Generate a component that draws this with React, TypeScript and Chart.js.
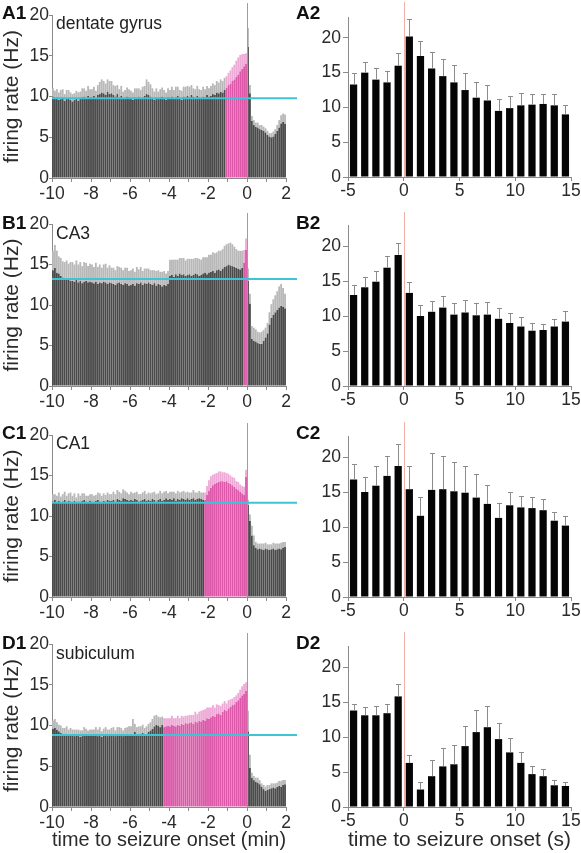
import React, { useEffect, useRef } from "react";
import { Chart, registerables } from "chart.js";
Chart.register(...registerables);

// ---------------- data ----------------
// minute-scale histograms: 6-s bins from -10 to 2 min (120 bins)
const MIN_START = -10;
const MIN_BIN = 0.1;

const A1_MEAN = [
  10.0, 9.8, 9.9, 9.6, 9.7, 9.9, 9.5, 9.8, 9.7, 9.6,
  9.4, 9.6, 9.8, 9.5, 9.7, 9.9, 10.0, 9.8, 10.1, 9.9,
  9.9, 10.1, 9.8, 10.2, 10.3, 10.5, 10.4, 10.2, 10.6, 10.3,
  10.4, 10.2, 10.0, 10.3, 9.9, 10.1, 9.7, 9.8, 10.0, 9.9,
  9.7, 9.6, 9.9, 9.8, 10.0, 9.7, 9.9, 10.1, 10.3, 10.2,
  10.0, 9.8, 9.6, 9.9, 9.7, 9.9, 10.0, 9.8, 9.6, 9.9,
  9.8, 10.0, 9.7, 9.9, 10.1, 9.8, 9.6, 10.0, 9.9, 10.1,
  9.9, 10.2, 10.0, 9.8, 10.1, 9.9, 9.7, 10.0, 9.9, 10.2,
  10.0, 10.1, 10.3, 10.2, 10.5, 10.4, 10.6, 10.5, 10.8, 11.1,
  11.4, 11.6, 11.9, 12.1, 12.4, 12.7, 13.1, 13.4, 13.7, 14.0,
  16.1, 10.4, 7.0, 6.5, 6.3, 6.2, 6.0, 5.9, 5.8, 5.6,
  5.3, 5.1, 5.0, 5.1, 5.4, 5.8, 6.2, 6.7, 6.9, 6.7,
];
const A1_SEM = [
  1.0, 0.9, 1.0, 0.9, 1.1, 1.0, 0.8, 1.0, 1.1, 0.9,
  0.9, 0.8, 0.9, 1.0, 0.9, 1.1, 1.0, 0.9, 1.2, 1.0,
  1.0, 1.1, 0.9, 1.2, 1.5, 1.6, 1.5, 1.4, 1.5, 1.6,
  1.5, 1.2, 1.3, 1.1, 1.0, 1.2, 0.9, 1.0, 1.1, 1.0,
  1.0, 0.9, 1.1, 1.2, 1.0, 1.1, 1.3, 1.2, 1.8, 1.6,
  1.5, 1.2, 1.0, 1.1, 0.9, 1.0, 1.1, 1.0, 0.9, 1.1,
  1.0, 1.2, 1.1, 1.3, 1.1, 1.0, 1.1, 1.2, 1.3, 1.2,
  1.3, 1.2, 1.0, 1.1, 1.2, 1.0, 1.1, 1.2, 1.0, 1.1,
  1.0, 1.2, 1.3, 1.2, 1.4, 1.3, 1.5, 1.4, 1.5, 1.4,
  1.5, 1.6, 1.7, 1.8, 2.0, 2.1, 2.0, 1.8, 1.5, 1.3,
  2.3, 1.0, 0.6, 0.6, 0.5, 0.6, 0.5, 0.6, 0.5, 0.5,
  0.5, 0.4, 0.5, 0.6, 0.6, 0.7, 0.9, 1.0, 1.0, 1.1,
];

const B1_MEAN = [
  14.3, 14.6, 14.0, 13.9, 13.6, 13.4, 13.2, 13.3, 13.1, 13.0,
  13.0, 12.9, 13.1, 12.8, 13.0, 12.7, 12.9, 13.0, 12.8, 12.9,
  12.8, 12.7, 12.9, 12.6, 12.8, 12.7, 12.9, 12.8, 12.6, 12.8,
  12.7, 12.6, 12.5, 12.7, 12.8, 12.6, 12.5, 12.7, 12.6, 12.4,
  12.5, 12.6, 12.4, 12.7, 12.6, 12.8, 12.5, 12.7, 12.6, 12.8,
  12.6, 12.5, 12.7, 12.4, 12.6, 12.5, 12.3, 12.5, 12.4, 12.6,
  13.6, 13.7, 13.5, 13.8, 13.6, 13.9, 13.7, 13.8, 13.6, 13.7,
  13.8, 13.6, 13.7, 13.9, 13.8, 13.6, 13.7, 13.9, 14.0, 13.8,
  14.0, 14.1, 14.2, 14.0, 14.3, 14.4, 14.2, 14.5, 14.7, 14.8,
  15.0, 14.9, 14.8, 14.7, 14.6, 14.5, 14.4, 14.6, 15.2, 16.8,
  13.0, 10.2, 5.8, 5.6, 5.5, 5.3, 5.2, 5.2, 5.6, 6.0,
  6.5, 7.6, 8.4, 8.8, 9.1, 9.4, 9.7, 9.9, 9.8, 9.6,
];
const B1_SEM = [
  2.4, 2.8, 2.7, 2.1, 2.2, 2.0, 2.1, 2.2, 2.0, 2.3,
  2.3, 2.1, 2.4, 2.2, 2.3, 2.1, 2.4, 2.2, 2.0, 2.2,
  2.2, 2.0, 2.3, 2.1, 2.2, 1.9, 2.1, 2.3, 2.0, 2.1,
  1.9, 2.0, 1.8, 2.1, 1.9, 2.0, 1.8, 1.9, 2.0, 1.8,
  1.8, 1.9, 1.7, 2.0, 1.8, 1.9, 1.7, 1.8, 1.9, 1.7,
  1.7, 1.8, 1.6, 1.8, 1.7, 1.6, 1.8, 1.7, 1.5, 1.6,
  2.0, 1.9, 2.1, 1.8, 2.0, 1.9, 2.1, 2.0, 1.9, 2.0,
  1.9, 2.1, 2.0, 1.9, 2.0, 2.1, 1.9, 2.0, 1.9, 2.1,
  2.2, 2.1, 2.3, 2.4, 2.2, 2.3, 2.5, 2.4, 2.6, 2.7,
  2.6, 2.8, 2.7, 2.5, 2.3, 2.2, 2.3, 2.1, 1.6, 1.4,
  1.5, 1.2, 1.6, 1.6, 1.5, 1.4, 1.4, 1.5, 1.3, 1.2,
  1.3, 1.5, 1.7, 1.9, 2.1, 2.3, 2.6, 2.7, 2.3, 1.8,
];

const C1_MEAN = [
  11.8, 12.0, 11.7, 11.9, 11.6, 11.8, 12.0, 11.7, 11.9, 11.8,
  11.7, 11.9, 11.6, 11.8, 11.7, 11.9, 12.0, 11.8, 11.6, 11.9,
  11.8, 11.7, 11.9, 12.0, 11.8, 11.7, 11.9, 11.8, 12.0, 11.9,
  11.9, 12.0, 11.8, 12.1, 12.0, 11.9, 12.2, 12.1, 12.0, 11.9,
  12.0, 11.9, 12.1, 12.0, 11.8, 11.9, 12.0, 12.1, 11.9, 12.0,
  11.9, 12.1, 12.0, 11.8, 12.0, 12.1, 11.9, 12.0, 12.2, 12.0,
  12.1, 12.0, 12.2, 11.9, 12.1, 12.0, 12.2, 12.1, 12.0, 12.2,
  12.0, 12.1, 12.2, 12.0, 12.1, 12.2, 12.1, 12.0, 12.0, 12.6,
  13.1, 13.5, 13.8, 14.0, 14.1, 14.2, 14.3, 14.3, 14.2, 14.3,
  14.1, 14.0, 13.8, 13.6, 13.4, 13.2, 13.0, 12.8, 12.6, 14.8,
  11.4, 9.4, 7.6, 6.4, 6.1, 5.9, 6.0, 5.9, 5.8, 6.0,
  5.9, 5.8, 5.9, 6.0, 5.8, 5.9, 6.0, 5.9, 6.1, 6.2,
];
const C1_SEM = [
  0.9, 0.7, 0.8, 1.0, 0.8, 0.9, 1.0, 0.8, 0.9, 1.1,
  0.8, 0.9, 0.7, 1.0, 0.8, 0.9, 0.8, 0.7, 0.9, 0.8,
  0.9, 0.8, 0.7, 0.9, 1.0, 0.8, 0.9, 0.8, 0.9, 0.8,
  0.8, 1.0, 0.9, 1.1, 1.0, 0.9, 1.1, 1.0, 0.9, 0.8,
  1.0, 0.9, 0.8, 1.0, 0.9, 0.8, 0.9, 1.0, 0.8, 0.9,
  0.9, 0.8, 1.0, 0.9, 0.8, 1.0, 0.9, 1.0, 0.9, 0.8,
  0.9, 1.0, 0.8, 0.9, 1.0, 0.9, 0.8, 1.0, 0.9, 0.8,
  0.9, 0.8, 1.0, 0.9, 0.8, 0.9, 0.8, 0.9, 0.9, 1.1,
  1.3, 1.4, 1.3, 1.2, 1.2, 1.3, 1.2, 1.1, 1.2, 1.0,
  1.1, 1.0, 1.0, 1.1, 0.9, 1.0, 0.9, 0.9, 1.0, 0.9,
  0.6, 0.8, 1.2, 1.2, 0.7, 0.7, 0.6, 0.7, 0.8, 0.7,
  0.6, 0.7, 0.6, 0.7, 0.8, 0.7, 0.6, 0.8, 0.7, 0.6,
];

const D1_MEAN = [
  9.6, 9.7, 9.5, 9.3, 9.1, 9.0, 8.9, 9.0, 8.8, 8.9,
  8.8, 8.7, 8.9, 8.8, 8.6, 8.7, 8.9, 8.8, 8.7, 8.9,
  8.7, 8.8, 8.9, 8.7, 8.8, 8.6, 8.8, 8.9, 8.7, 8.8,
  8.9, 8.8, 8.7, 8.9, 9.0, 8.8, 8.7, 8.9, 8.8, 9.0,
  8.9, 9.0, 9.2, 8.9, 8.8, 9.0, 9.1, 8.9, 9.0, 9.2,
  9.4, 9.6, 9.9, 10.1, 10.0, 9.8, 10.1, 9.8, 9.9, 10.0,
  9.9, 10.1, 10.0, 9.9, 10.1, 10.0, 10.2, 10.1, 10.3, 10.2,
  10.3, 10.4, 10.2, 10.5, 10.4, 10.6, 10.5, 10.7, 10.6, 10.9,
  10.8, 11.0, 11.2, 11.1, 11.4, 11.5, 11.3, 11.7, 11.9, 11.8,
  12.1, 12.3, 12.5, 12.6, 12.9, 13.1, 13.4, 13.7, 13.9, 14.3,
  9.3, 4.8, 3.6, 3.3, 3.1, 3.0, 2.8, 2.5, 2.2, 2.0,
  2.1, 2.2, 2.3, 2.4, 2.3, 2.5, 2.6, 2.5, 2.7, 2.8,
];
const D1_SEM = [
  1.0, 1.1, 0.9, 0.8, 0.9, 0.7, 0.8, 0.9, 0.7, 0.8,
  0.7, 0.8, 0.6, 0.7, 0.8, 0.7, 0.9, 0.8, 0.7, 0.6,
  0.8, 0.7, 0.9, 0.8, 1.0, 0.7, 0.8, 0.9, 0.8, 0.7,
  0.8, 1.0, 0.7, 0.9, 0.8, 0.9, 0.7, 0.8, 1.0, 0.9,
  1.0, 1.8, 1.0, 0.9, 1.1, 0.9, 1.0, 0.8, 0.9, 1.0,
  1.0, 1.2, 1.3, 1.2, 1.1, 1.2, 1.0, 1.1, 1.0, 0.9,
  1.0, 1.1, 0.9, 1.0, 1.1, 0.9, 1.0, 1.0, 0.9, 1.0,
  1.0, 0.9, 1.1, 1.2, 1.0, 1.1, 1.3, 1.2, 1.4, 1.3,
  1.4, 1.2, 1.3, 1.1, 1.2, 1.0, 1.1, 1.0, 1.1, 0.9,
  1.0, 0.9, 0.8, 0.9, 0.8, 0.9, 1.0, 1.1, 1.2, 1.0,
  2.5, 1.6, 0.6, 0.5, 0.5, 0.6, 0.5, 0.4, 0.5, 0.5,
  0.6, 0.5, 0.6, 0.5, 0.6, 0.5, 0.6, 0.7, 0.6, 0.5,
];

// second-scale histograms: 1-s bins from -5 to 15 s
const SEC_CENTERS = [-4.5, -3.5, -2.5, -1.5, -0.5, 0.5, 1.5, 2.5, 3.5, 4.5, 5.5, 6.5, 7.5, 8.5, 9.5, 10.5, 11.5, 12.5, 13.5, 14.5];

const A2_MEAN = [13.3, 15.0, 14.0, 13.6, 16.0, 20.2, 17.4, 15.6, 14.5, 13.6, 12.5, 11.4, 11.0, 9.5, 9.9, 10.3, 10.4, 10.5, 10.3, 9.0];
const A2_SEM = [1.6, 1.6, 1.7, 1.7, 1.8, 2.5, 2.2, 2.3, 2.5, 2.5, 2.5, 2.3, 2.2, 1.7, 1.8, 1.8, 1.6, 1.5, 1.6, 1.3];
const B2_MEAN = [13.0, 14.1, 14.9, 16.9, 18.7, 13.3, 10.0, 10.6, 11.2, 10.2, 10.5, 10.1, 10.2, 9.6, 9.0, 8.5, 7.9, 8.0, 8.5, 9.2];
const B2_SEM = [1.4, 1.5, 1.6, 1.7, 1.8, 1.6, 1.6, 1.5, 1.6, 1.6, 1.8, 1.8, 1.8, 1.6, 1.5, 1.3, 1.1, 0.9, 1.1, 1.5];
const C2_MEAN = [16.8, 15.0, 15.9, 17.3, 18.7, 15.4, 11.6, 15.3, 15.4, 15.1, 14.9, 14.2, 13.3, 11.3, 13.1, 12.8, 12.7, 12.4, 10.9, 10.2];
const C2_SEM = [2.2, 2.1, 2.8, 2.9, 3.2, 3.3, 2.7, 5.3, 4.8, 4.2, 3.8, 3.3, 2.7, 2.1, 1.9, 1.7, 1.6, 1.6, 1.3, 1.4];
const D2_MEAN = [13.8, 13.1, 13.1, 13.4, 15.8, 6.3, 2.5, 4.4, 5.8, 6.1, 8.7, 10.7, 11.4, 9.7, 7.8, 6.3, 4.7, 4.4, 3.1, 3.0];
const D2_SEM = [0.9, 1.2, 1.3, 1.3, 1.7, 1.2, 1.1, 2.3, 2.7, 2.8, 2.9, 3.1, 3.1, 2.3, 2.0, 1.5, 1.1, 1.1, 0.8, 0.6];

// baselines (cyan) and pre-ictal (pink) onset per region
const REGIONS = ["dentate gyrus", "CA3", "CA1", "subiculum"];
const LETTERS = ["A", "B", "C", "D"];
const BASELINES = [9.8, 13.2, 11.65, 8.83];
const PINK_STARTS = [-1.1, -0.2, -2.2, -4.3];
const LEFT_MEANS = [A1_MEAN, B1_MEAN, C1_MEAN, D1_MEAN];
const LEFT_SEMS = [A1_SEM, B1_SEM, C1_SEM, D1_SEM];
const RIGHT_MEANS = [A2_MEAN, B2_MEAN, C2_MEAN, D2_MEAN];
const RIGHT_SEMS = [A2_SEM, B2_SEM, C2_SEM, D2_SEM];

const Y_TITLE = "firing rate (Hz)";
const X_TITLE_LEFT = "time to seizure onset (min)";
const X_TITLE_RIGHT = "time to seizure onset (s)";

// ---------------- style / layout ----------------
const FONT = "'Liberation Sans', Arial, Helvetica, sans-serif";
const TXT = "#2b2b2b";
const AXIS = "#8a8a8a";
const DARK = "#4a4a4a";
const GRAY_LIGHT = "#b8b8b8";
const PINK = "#dc58a8";
const PINK_LIGHT = "#eeaad6";
const CYAN = "#3ec4d4";
const ONSET_L = "#f07c78";
const ONSET_R = "#f2b2a8";
const BAR_BLACK = "#050505";
const ERR_GRAY = "#8c8c8c";

const ROW_TOP = [0, 210, 420, 630];
const ROW_H = [210, 210, 210, 223];
const LEFT_TOP = [15, 14, 15, 14];
const LEFT_BOTTOM = [178, 176, 177, 177];
const RIGHT_TOP = [17, 15, 16, 16];
const RIGHT_BOTTOM = [177, 176, 177, 177];
const LEFT_W = 300;
const RIGHT_X = 290;
const RIGHT_W = 291;

function overlayPlugin(opts: any) {
  return {
    id: "overlay" + Math.random().toString(36).slice(2),
    afterDatasetsDraw(chart: any) {
      const { ctx, chartArea, scales } = chart;
      const x = scales.x;
      const y = scales.y;
      ctx.save();
      if (opts.errors) {
        ctx.strokeStyle = ERR_GRAY;
        ctx.lineWidth = 1;
        opts.centers.forEach((c: number, i: number) => {
          const px = Math.round(x.getPixelForValue(c)) + 0.5;
          const y0 = y.getPixelForValue(opts.mean[i]);
          const y1 = Math.round(y.getPixelForValue(opts.mean[i] + opts.sem[i])) + 0.5;
          ctx.beginPath();
          ctx.moveTo(px, y0);
          ctx.lineTo(px, y1);
          ctx.moveTo(px - 2.5, y1);
          ctx.lineTo(px + 2.5, y1);
          ctx.stroke();
        });
      }
      if (opts.baseline != null) {
        const py = y.getPixelForValue(opts.baseline);
        ctx.strokeStyle = CYAN;
        ctx.lineWidth = 2;
        ctx.beginPath();
        ctx.moveTo(chartArea.left, py);
        ctx.lineTo(chartArea.right + opts.extend, py);
        ctx.stroke();
      }
      const p0 = Math.round(x.getPixelForValue(0)) + 0.5;
      ctx.strokeStyle = opts.onsetColor;
      ctx.lineWidth = 1;
      ctx.beginPath();
      ctx.moveTo(p0, opts.onsetTop);
      ctx.lineTo(p0, chartArea.bottom);
      ctx.stroke();
      ctx.restore();
    },
  };
}

function axisCommon(tickLen: number, pad: number) {
  return {
    ticks: { color: TXT, font: { family: FONT, size: 17.5 }, padding: pad, autoSkip: false, maxRotation: 0 },
    grid: { drawOnChartArea: false, drawTicks: true, tickLength: tickLen, color: AXIS, offset: false },
    border: { display: true, color: AXIS, width: 1 },
  };
}

function LeftPanel({ row }: { row: number }) {
  const ref = useRef<HTMLCanvasElement>(null);
  useEffect(() => {
    const mean = LEFT_MEANS[row];
    const sem = LEFT_SEMS[row];
    const centers = mean.map((_, i) => MIN_START + MIN_BIN * (i + 0.5));
    const pink = centers.map((c) => c >= PINK_STARTS[row] && c < 0);
    const h = ROW_H[row];
    const xc = axisCommon(4, 2);
    const yc = axisCommon(3, 0);
    const chart = new Chart(ref.current as HTMLCanvasElement, {
      type: "bar",
      data: {
        datasets: [
          {
            data: centers.map((c, i) => ({ x: c, y: [mean[i], mean[i] + sem[i]] })),
            backgroundColor: pink.map((k) => (k ? PINK_LIGHT : GRAY_LIGHT)),
            grouped: false,
            barPercentage: 0.94,
            categoryPercentage: 1,
            borderWidth: 0,
          } as any,
          {
            data: centers.map((c, i) => ({ x: c, y: mean[i] })),
            backgroundColor: pink.map((k) => (k ? PINK : DARK)),
            grouped: false,
            barPercentage: 0.94,
            categoryPercentage: 1,
            borderWidth: 0,
          } as any,
        ],
      },
      options: {
        responsive: false,
        maintainAspectRatio: false,
        animation: false,
        layout: { padding: { top: LEFT_TOP[row], right: LEFT_W - 286, bottom: 0, left: 0 } },
        plugins: { legend: { display: false }, tooltip: { enabled: false } },
        scales: {
          x: {
            type: "linear",
            min: -10,
            max: 2,
            offset: false,
            ...xc,
            ticks: { ...xc.ticks, stepSize: 1, callback: (v: any) => (Number(v) % 2 === 0 ? String(v) : "") },
            title: {
              display: row === 3,
              text: X_TITLE_LEFT,
              color: TXT,
              font: { family: FONT, size: 21 },
              padding: { top: 0, bottom: 0 },
            },
            afterFit: (s: any) => {
              s.height = h - LEFT_BOTTOM[row];
              s.paddingLeft = 0;
              s.paddingRight = 0;
            },
          },
          y: {
            type: "linear",
            min: 0,
            max: 20,
            ...yc,
            ticks: { ...yc.ticks, stepSize: 5 },
            title: { display: true, text: Y_TITLE, color: TXT, font: { family: FONT, size: 21 }, padding: { top: 0, bottom: 0 } },
            afterFit: (s: any) => {
              s.width = 52;
              s.paddingTop = 0;
              s.paddingBottom = 0;
            },
          },
        },
      } as any,
      plugins: [overlayPlugin({ baseline: BASELINES[row], extend: 11, onsetColor: ONSET_L, onsetTop: 3 })],
    });
    return () => chart.destroy();
  }, [row]);
  return (
    <canvas
      ref={ref}
      width={LEFT_W}
      height={ROW_H[row]}
      style={{ position: "absolute", left: 0, top: ROW_TOP[row], width: LEFT_W, height: ROW_H[row] }}
    />
  );
}

function RightPanel({ row }: { row: number }) {
  const ref = useRef<HTMLCanvasElement>(null);
  useEffect(() => {
    const mean = RIGHT_MEANS[row];
    const sem = RIGHT_SEMS[row];
    const h = ROW_H[row];
    const xc = axisCommon(4, 0);
    const yc = axisCommon(5, 2);
    const chart = new Chart(ref.current as HTMLCanvasElement, {
      type: "bar",
      data: {
        datasets: [
          {
            data: SEC_CENTERS.map((c, i) => ({ x: c, y: mean[i] })),
            backgroundColor: BAR_BLACK,
            grouped: false,
            barPercentage: 0.65,
            categoryPercentage: 1,
            borderWidth: 0,
          } as any,
        ],
      },
      options: {
        responsive: false,
        maintainAspectRatio: false,
        animation: false,
        layout: { padding: { top: RIGHT_TOP[row], right: RIGHT_W - 281, bottom: 0, left: 0 } },
        plugins: { legend: { display: false }, tooltip: { enabled: false } },
        scales: {
          x: {
            type: "linear",
            min: -5,
            max: 15,
            offset: false,
            ...xc,
            ticks: { ...xc.ticks, stepSize: 5 },
            title: {
              display: row === 3,
              text: X_TITLE_RIGHT,
              color: TXT,
              font: { family: FONT, size: 21 },
              padding: { top: 0, bottom: 0 },
            },
            afterFit: (s: any) => {
              s.height = h - RIGHT_BOTTOM[row];
              s.paddingLeft = 0;
              s.paddingRight = 0;
            },
          },
          y: {
            type: "linear",
            min: 0,
            max: 23,
            ...yc,
            ticks: { ...yc.ticks, stepSize: 5, includeBounds: false },
            afterFit: (s: any) => {
              s.width = 58;
              s.paddingTop = 0;
              s.paddingBottom = 0;
            },
          },
        },
      } as any,
      plugins: [overlayPlugin({ errors: true, centers: SEC_CENTERS, mean, sem, onsetColor: ONSET_R, onsetTop: 2 })],
    });
    return () => chart.destroy();
  }, [row]);
  return (
    <canvas
      ref={ref}
      width={RIGHT_W}
      height={ROW_H[row]}
      style={{ position: "absolute", left: RIGHT_X, top: ROW_TOP[row], width: RIGHT_W, height: ROW_H[row] }}
    />
  );
}

export default function App() {
  return (
    <div style={{ position: "absolute", left: 0, top: 0, width: 581, height: 853, background: "#fff", overflow: "hidden" }}>
      {[0, 1, 2, 3].map((r) => (
        <React.Fragment key={r}>
          <LeftPanel row={r} />
          <RightPanel row={r} />
          <div
            style={{ position: "absolute", left: 2, top: ROW_TOP[r] + 3, font: `bold 19px ${FONT}`, lineHeight: "19px", color: "#111", whiteSpace: "nowrap" }}
          >
            {LETTERS[r] + "1"}
          </div>
          <div
            style={{ position: "absolute", left: 296, top: ROW_TOP[r] + 3, font: `bold 19px ${FONT}`, lineHeight: "19px", color: "#111", whiteSpace: "nowrap" }}
          >
            {LETTERS[r] + "2"}
          </div>
          <div
            style={{ position: "absolute", left: 56, top: ROW_TOP[r] + 15, font: `17.5px ${FONT}`, lineHeight: "17.5px", color: "#222", whiteSpace: "nowrap" }}
          >
            {REGIONS[r]}
          </div>
        </React.Fragment>
      ))}
    </div>
  );
}
